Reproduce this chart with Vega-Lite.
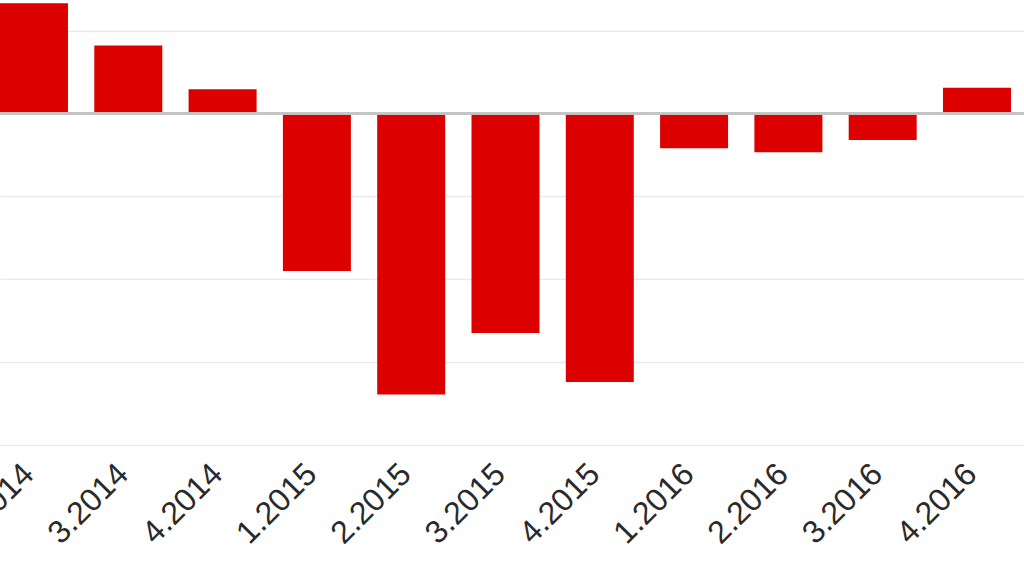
{
  "$schema": "https://vega.github.io/schema/vega-lite/v6.json",
  "width": 1024,
  "height": 445,
  "autosize": {"type": "none"},
  "padding": {"left": 0, "top": 0, "right": 0, "bottom": 131},
  "background": "white",
  "config": {"view": {"stroke": null}, "font": "Liberation Sans"},
  "data": {
    "values": [
      {"q": "2.2014", "v": 1.33},
      {"q": "3.2014", "v": 0.82},
      {"q": "4.2014", "v": 0.29},
      {"q": "1.2015", "v": -1.90},
      {"q": "2.2015", "v": -3.39},
      {"q": "3.2015", "v": -2.65},
      {"q": "4.2015", "v": -3.24},
      {"q": "1.2016", "v": -0.42},
      {"q": "2.2016", "v": -0.47},
      {"q": "3.2016", "v": -0.32},
      {"q": "4.2016", "v": 0.31}
    ]
  },
  "layer": [
    {
      "mark": {"type": "bar", "color": "#dc0000"},
      "encoding": {
        "x": {
          "field": "q", "type": "nominal", "sort": null,
          "scale": {"paddingInner": 0.279, "paddingOuter": 0.069, "align": 0},
          "axis": {
            "title": null, "domain": false, "ticks": false, "labelAngle": -45,
            "labelFontSize": 32, "labelColor": "#2a2a2a", "labelPadding": 13,
            "labelOffset": -16, "labelFont": "Liberation Sans"
          }
        },
        "y": {
          "field": "v", "type": "quantitative",
          "scale": {"domain": [-4, 1.368], "nice": false, "zero": false},
          "axis": {
            "title": null, "labels": false, "ticks": false, "domain": false,
            "grid": true, "gridColor": "#eaeaea", "gridWidth": 1.5,
            "values": [-4, -3, -2, -1, 1]
          }
        }
      }
    },
    {
      "mark": {"type": "rule", "color": "#c4c4c4", "strokeWidth": 1.5},
      "encoding": {"y": {"datum": 0}}
    }
  ]
}
